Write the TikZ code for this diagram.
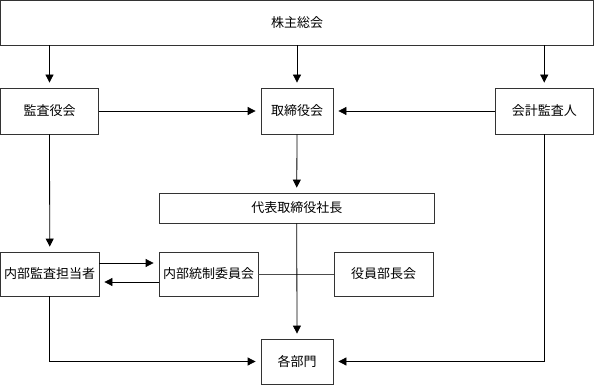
\documentclass[tikz,border=0pt]{standalone}
\usepackage{fontspec}
\usepackage{tikz}
\usetikzlibrary{arrows.meta}
\newfontfamily\jpfont{Noto Sans CJK JP}

\begin{document}
\begin{tikzpicture}[x=1pt,y=-1pt,
  box/.style={draw=black!80,line width=0.8pt,inner sep=0pt,align=center,
    font=\jpfont\fontsize{13}{13}\selectfont},
  arr/.style={line width=0.8pt,-{Triangle[length=8pt,width=8pt]},shorten >=5pt},
  link/.style={line width=0.8pt,draw=black!70}]

\useasboundingbox (0,0) rectangle (595,385);

% Draw the boxes
\node[box,minimum width=593pt,minimum height=44.5pt] (agm) at (297,22.75) {株主総会};
\node[box,minimum width=98pt,minimum height=46pt] (kansa) at (49.5,111) {監査役会};
\node[box,minimum width=72pt,minimum height=46pt] (board) at (297,111) {取締役会};
\node[box,minimum width=98.5pt,minimum height=46pt] (auditor) at (544.25,111) {会計監査人};
\node[box,minimum width=275.5pt,minimum height=30pt] (ceo) at (296.75,208) {代表取締役社長};
\node[box,minimum width=98.5pt,minimum height=44pt] (internal) at (49.75,274) {内部監査担当者};
\node[box,minimum width=99pt,minimum height=44pt] (committee) at (208.5,274) {内部統制委員会};
\node[box,minimum width=99pt,minimum height=44pt] (officers) at (383.5,274) {役員部長会};
\node[box,minimum width=72pt,minimum height=45pt] (depts) at (297,361.5) {各部門};

% Draw the arrows from the general meeting
\draw[arr] (kansa.north |- agm.south) -- (kansa.north);
\draw[arr] (board.north |- agm.south) -- (board.north);
\draw[arr] (auditor.north |- agm.south) -- (auditor.north);

% Arrows into the board
\draw[arr] (kansa.east) -- (board.west);
\draw[arr] (auditor.west) -- (board.east);
\draw[arr] (board.south) -- (ceo.north);

% Internal audit and committee
\draw[arr] (kansa.south) -- (internal.north);
\draw[arr] ([yshift=11pt]internal.east) -- ([yshift=11pt]committee.west);
\draw[arr] ([yshift=-8pt]committee.west) -- ([yshift=-8pt]internal.east);
\draw[link] (committee.east) -- (officers.west);

% Arrows into the departments
\draw[arr] (ceo.south) -- (depts.north);
\draw[arr] (internal.south) |- (depts.west);
\draw[arr] (auditor.south) |- (depts.east);

\end{tikzpicture}
\end{document}
